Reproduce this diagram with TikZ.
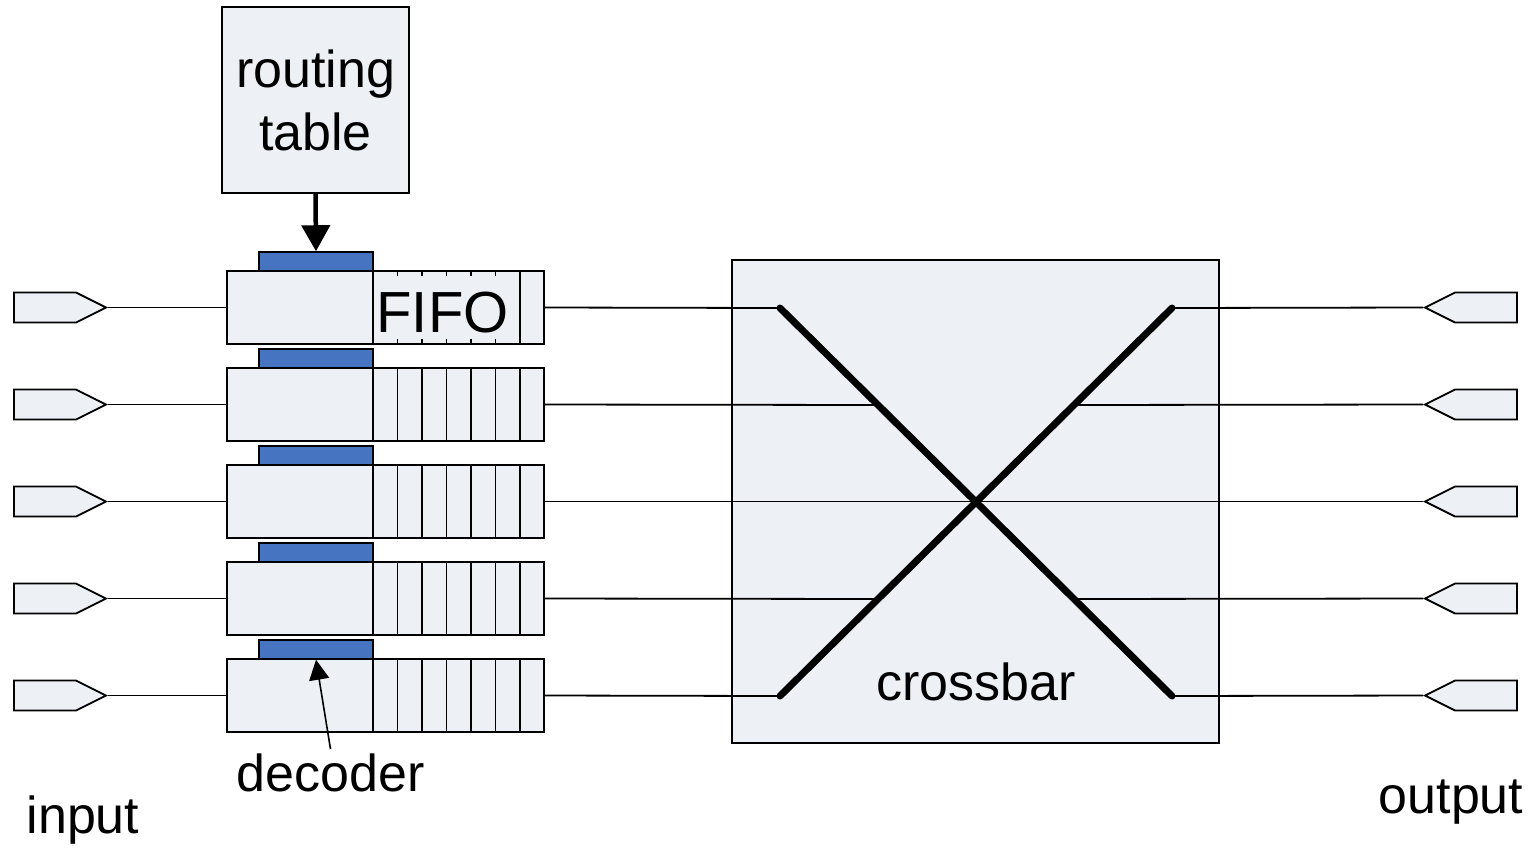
\documentclass[tikz,border=0pt]{standalone}
\usepackage{fontspec}
\setmainfont{Liberation Sans}
\usetikzlibrary{arrows.meta,shapes.symbols,calc}
\definecolor{boxfill}{HTML}{EDF0F5}
\definecolor{decblue}{HTML}{4674C1}
\begin{document}
\begin{tikzpicture}[x=1pt,y=-1pt,
  box/.style={draw, fill=boxfill, line width=1.8pt, inner sep=0pt},
  decbar/.style={draw, fill=decblue, line width=1.5pt, inner sep=0pt, minimum width=114pt, minimum height=19pt},
  fifobox/.style={box, minimum width=317pt, minimum height=73pt},
  pinin/.style={box, shape=signal, signal to=east, signal pointer angle=53.13, minimum width=92pt, minimum height=30pt},
  pinout/.style={box, shape=signal, signal to=west, signal pointer angle=53.13, minimum width=92pt, minimum height=30pt},
  wire/.style={line width=1.8pt},
  divider/.style={line width=1.5pt},
  xline/.style={line width=7pt, line cap=round},
  lbl/.style={font=\fontsize{52}{63}\selectfont, inner sep=0pt}
]
\useasboundingbox (0,0) rectangle (1536,849);

% routing table
\node[box, lbl, minimum width=187pt, minimum height=186pt, align=center, draw, fill=boxfill, line width=1.8pt] (rt) at (315.5,100) {routing\\table};

% crossbar box
\node[box, minimum width=487pt, minimum height=483pt] (cb) at (975.5,501.5) {};
\node[lbl, anchor=base] (cblbl) at (976,700) {crossbar};

% X end points
\coordinate (a1) at (780,308);
\coordinate (a5) at (780,696);
\coordinate (b1) at (1172,308);
\coordinate (b5) at (1172,696);
\coordinate (l2) at ($(a1)!0.25!(b5)$);
\coordinate (l4) at ($(a5)!0.25!(b1)$);
\coordinate (r2) at ($(b1)!0.25!(a5)$);
\coordinate (r4) at ($(b5)!0.25!(a1)$);

\foreach \i in {1,...,5} {
  \pgfmathsetmacro{\yc}{307.5+97*(\i-1)}
  \node[fifobox] (fifo\i) at (385.5,\yc) {};
  \node[decbar] (dec\i) at (316,\yc-46) {};
  \foreach \xx in {373,397.5,422,446.5,471,495.5,520}
    \draw[divider] (\xx,\yc-36.5) -- (\xx,\yc+36.5);
  \node[pinin] (in\i) at (45,\yc) {};
  \node[pinout] (out\i) at (1486,\yc) {};
  \draw[wire] (in\i.east) -- (fifo\i.west);
}

% FIFO label covering the dividers
\node[lbl, fill=boxfill, font=\fontsize{58}{63}\selectfont, minimum width=135pt, minimum height=63pt, text height=49pt, text depth=0pt] (fifolbl) at (442.5,307.5) {FIFO};

% wires into and out of crossbar
\draw[wire] (fifo1.east) -- (a1);
\draw[wire] (fifo2.east) -- (l2);
\draw[wire] (fifo3.east) -- (out3.west);
\draw[wire] (fifo4.east) -- (l4);
\draw[wire] (fifo5.east) -- (a5);
\draw[wire] (b1) -- (out1.west);
\draw[wire] (r2) -- (out2.west);
\draw[wire] (r4) -- (out4.west);
\draw[wire] (b5) -- (out5.west);

% crossbar X
\draw[xline] (a1) -- (b5);
\draw[xline] (a5) -- (b1);

% routing arrow
\draw[line width=4.5pt, -{Triangle[width=28pt,length=26pt]}] (rt.south) -- (dec1.north);

% labels
\node[lbl, anchor=base] (declbl) at (330.5,791) {decoder};
\draw[line width=1.6pt, -{Triangle[width=20pt,length=20pt]}] ([yshift=4pt]declbl.north) -- (dec5.south);
\node[lbl, anchor=base] (inlbl) at (83,833) {input};
\node[lbl, anchor=base] (outlbl) at (1451,813) {output};
\end{tikzpicture}
\end{document}
